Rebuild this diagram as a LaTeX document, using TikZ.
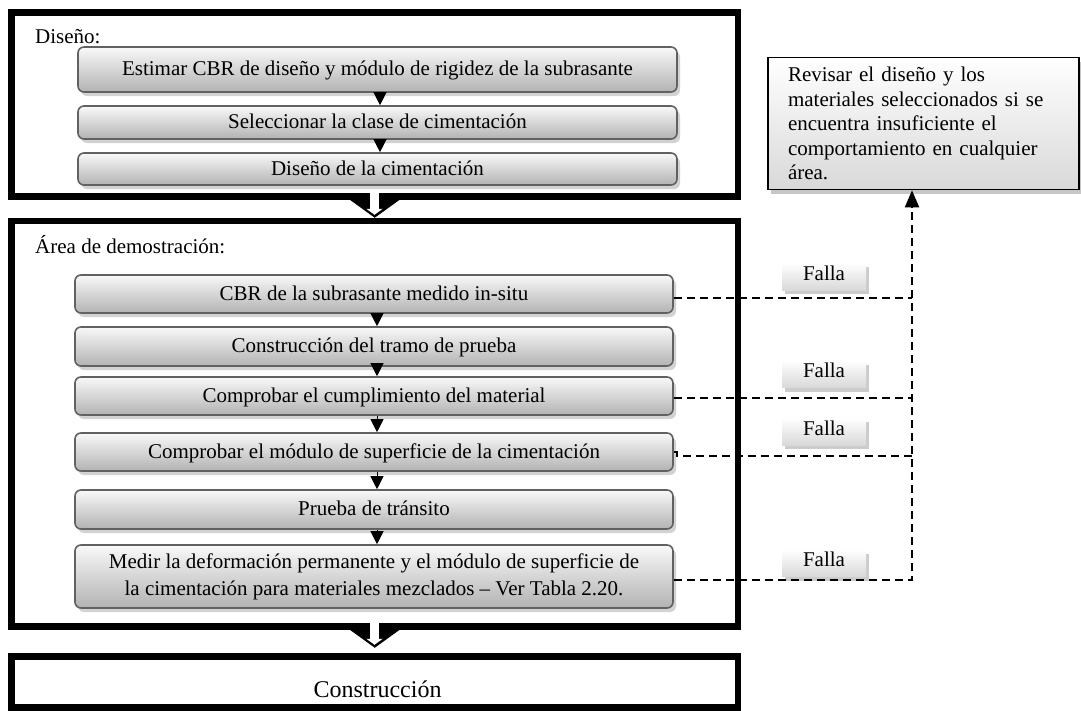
\documentclass[tikz,border=0pt]{standalone}
\usepackage{fontspec}
\setmainfont{Liberation Serif}
\usetikzlibrary{arrows.meta,shadows}
\begin{document}
\begin{tikzpicture}[x=1pt,y=-1pt,
  fs/.style={font=\fontsize{21}{24.5}\selectfont},
  frame/.style={draw=black, line width=6.5pt, inner sep=0pt},
  stepbox/.style={draw=black!62, line width=1.6pt, rounded corners=6pt,
    top color=gray!5, bottom color=gray!60,
    drop shadow={shadow xshift=3pt, shadow yshift=-4pt, fill=gray!35, opacity=1},
    inner sep=0pt, align=center, fs},
  steptext/.style={text height=16pt, text depth=4pt},
  fallabox/.style={top color=white, bottom color=gray!30,
    drop shadow={shadow xshift=3pt, shadow yshift=-4pt, fill=gray!40, opacity=1},
    minimum width=84pt, minimum height=27pt, inner sep=0pt, fs,
    text height=14pt, text depth=7pt},
  revbox/.style={draw=black, line width=1.6pt, top color=white, bottom color=gray!30,
    drop shadow={shadow xshift=3pt, shadow yshift=-4pt, fill=gray!45, opacity=1},
    minimum width=311pt, minimum height=132pt, inner xsep=20pt,
    text width=271pt, align=left, fs},
  flow/.style={-{Triangle[width=13pt,length=13pt]}, line width=1pt},
  failline/.style={dash pattern=on 8pt off 5pt, line width=2pt},
  bigarrow/.pic={
    \fill[black] (-27,-1.5) -- (27,-1.5) -- (0,18) -- cycle;
    \fill[white] (-4.5,-7.5) rectangle (4,10);
    \fill[white] (-8.5,9) -- (8,9) -- (-0.25,15) -- cycle;
  }
]
\useasboundingbox (0,0) rectangle (1081,710);

% frames
\node[frame, minimum width=726.5pt, minimum height=184pt] (design) at (374.75,104.5) {};
\node[frame, minimum width=726.5pt, minimum height=405.5pt] (demo) at (374.75,423.75) {};
\node[frame, minimum width=726.5pt, minimum height=51pt] (constr) at (374.75,682) {};

\node[fs, anchor=base west, inner sep=0pt] (lbl1) at (35,43) {Diseño:};
\node[fs, anchor=base west, inner sep=0pt] (lbl2) at (35,253) {Área de demostración:};
\node[font=\fontsize{24}{28}\selectfont, anchor=base, inner sep=0pt] (ctext) at (377.5,697) {Construcción};

% design steps
\node[stepbox, steptext, minimum width=599pt, minimum height=45pt] (s1) at (377.5,69.5) {Estimar CBR de diseño y módulo de rigidez de la subrasante};
\node[stepbox, steptext, minimum width=599pt, minimum height=33pt] (s2) at (377.5,122.5) {Seleccionar la clase de cimentación};
\node[stepbox, steptext, minimum width=599pt, minimum height=32pt] (s3) at (377.5,169) {Diseño de la cimentación};

% demo steps
\node[stepbox, steptext, minimum width=598pt, minimum height=38pt] (d1) at (374,294) {CBR de la subrasante medido in-situ};
\node[stepbox, steptext, minimum width=598pt, minimum height=39pt] (d2) at (374,346.5) {Construcción del tramo de prueba};
\node[stepbox, steptext, minimum width=598pt, minimum height=38pt] (d3) at (374,396) {Comprobar el cumplimiento del material};
\node[stepbox, steptext, minimum width=598pt, minimum height=38pt] (d4) at (374,452) {Comprobar el módulo de superficie de la cimentación};
\node[stepbox, steptext, minimum width=598pt, minimum height=39pt] (d5) at (374,509.5) {Prueba de tránsito};
\node[stepbox, minimum width=598pt, minimum height=63pt, font=\fontsize{21}{27}\selectfont] (d6) at (374,576.5) {Medir la deformación permanente y el módulo de superficie de\\la cimentación para materiales mezclados -- Ver Tabla 2.20.};

% revise box
\node[revbox] (rev) at (923.5,123.5) {Revisar el diseño y los\\materiales seleccionados si se\\encuentra insuficiente el\\comportamiento en cualquier\\área.};

% falla labels
\node[fallabox] (f1) at (824,276.5) {Falla};
\node[fallabox] (f2) at (824,374) {Falla};
\node[fallabox] (f3) at (824,431.5) {Falla};
\node[fallabox] (f4) at (824,563) {Falla};

% flow arrows
\draw[flow] ([xshift=2.5pt]s1.south) -- ([xshift=2.5pt]s2.north);
\draw[flow] ([xshift=2.5pt]s2.south) -- ([xshift=2.5pt]s3.north);
\draw[flow] ([xshift=3pt]d1.south) -- ([xshift=3pt]d2.north);
\draw[flow] ([xshift=3pt]d2.south) -- ([xshift=3pt]d3.north);
\draw[flow] ([xshift=3pt]d3.south) -- ([xshift=3pt]d4.north);
\draw[flow] ([xshift=3pt]d4.south) -- ([xshift=3pt]d5.north);
\draw[flow] ([xshift=3pt]d5.south) -- ([xshift=3pt]d6.north);

% block arrows between frames
\pic at (design.south) {bigarrow};
\pic at (demo.south) {bigarrow};

% failure connectors
\coordinate (vx) at (912,0);
\draw[failline] ([yshift=-4pt]d1.east) -- ([yshift=-4pt]d1.east -| vx);
\draw[failline] ([yshift=-2pt]d3.east) -- ([yshift=-2pt]d3.east -| vx);
\draw[failline] (d4.east) -- ++(3,0) |- ([yshift=-4pt]d4.east -| vx);
\draw[failline, -{Triangle[width=14pt,length=17pt]}] ([yshift=-3.5pt]d6.east) -| (rev.south -| vx);
\end{tikzpicture}
\end{document}
